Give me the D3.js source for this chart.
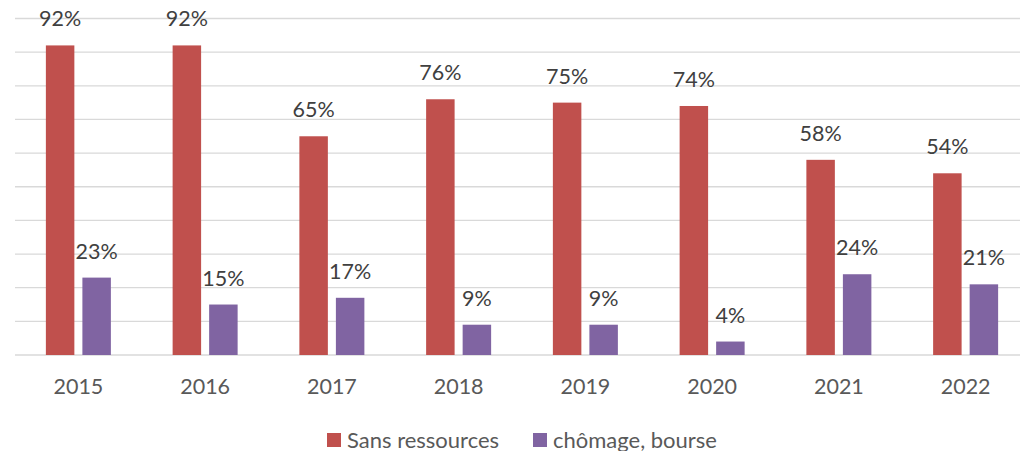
<!DOCTYPE html>
<html>
<head>
<meta charset="utf-8">
<script src="https://cdn.jsdelivr.net/npm/d3@7"></script>
<style>
  body { margin: 0; background: #fff; }
  text { font-family: Lato, "Open Sans", sans-serif; }
</style>
</head>
<body>
<svg id="chart" width="1020" height="451"></svg>
<script>
var years = ["2015", "2016", "2017", "2018", "2019", "2020", "2021", "2022"];
var seriesNames = ["Sans ressources", "chômage, bourse"];
var sansRessources = [92, 92, 65, 76, 75, 74, 58, 54];
var chomageBourse = [23, 15, 17, 9, 9, 4, 24, 21];
var gridTicks = [0, 10, 20, 30, 40, 50, 60, 70, 80, 90, 100];

var svg = d3.select("#chart"),
    colors = ["#C0504D", "#8064A2"];

var data = years.map(function(y, i) {
  return {year: y, values: [sansRessources[i], chomageBourse[i]]};
});

var x0 = d3.scaleBand()
    .domain(years)
    .range([15, 1029]);

// two bars per year, with a small gap between them
var x1 = d3.scaleBand()
    .domain([0, 1])
    .range([x0.bandwidth() / 2 - 32.5, x0.bandwidth() / 2 + 32.5])
    .paddingInner(0.22);

var y = d3.scaleLinear()
    .domain([0, 100])
    .range([355, 18.5]);

// gridlines
svg.append("g")
  .selectAll("line")
  .data(gridTicks)
  .enter().append("line")
    .attr("x1", 15)
    .attr("x2", 1020)
    .attr("y1", function(d) { return y(d); })
    .attr("y2", function(d) { return y(d); })
    .attr("stroke", "#D9D9D9")
    .attr("stroke-width", 1.3);

var groups = svg.append("g")
  .selectAll("g")
  .data(data)
  .enter().append("g")
    .attr("transform", function(d) { return "translate(" + x0(d.year) + ",0)"; });

var cells = groups.selectAll("g")
  .data(function(d) { return d.values.map(function(v, k) { return {k: k, value: v}; }); })
  .enter().append("g");

cells.append("rect")
    .attr("x", function(d) { return x1(d.k); })
    .attr("y", function(d) { return y(d.value); })
    .attr("width", x1.bandwidth())
    .attr("height", function(d) { return y(0) - y(d.value); })
    .attr("fill", function(d) { return colors[d.k]; });

cells.append("text")
    .attr("x", function(d) { return x1(d.k) + x1.bandwidth() / 2; })
    .attr("y", function(d) { return y(d.value) - 19; })
    .attr("text-anchor", "middle")
    .style("font-size", "21.5px")
    .style("fill", "#404040")
    .text(function(d) { return d.value + "%"; });

// x axis labels
var xAxis = svg.append("g")
    .attr("transform", "translate(0,355)")
    .call(d3.axisBottom(x0).tickSize(0).tickPadding(39));
xAxis.select(".domain").remove();
xAxis.selectAll("text")
    .attr("dy", 0)
    .style("font-family", "Lato, 'Open Sans', sans-serif")
    .style("font-size", "21.5px")
    .style("fill", "#595959");

// legend
var legendX = [327, 533];
var legend = svg.append("g")
  .selectAll("g")
  .data(seriesNames)
  .enter().append("g")
    .attr("transform", function(d, i) { return "translate(" + legendX[i] + ",433)"; });

legend.append("rect")
    .attr("width", 14)
    .attr("height", 14)
    .attr("fill", function(d, i) { return colors[i]; });

legend.append("text")
    .attr("x", 20)
    .attr("y", 14.5)
    .style("font-size", "22px")
    .style("fill", "#595959")
    .text(function(d) { return d; });
</script>
</body>
</html>
